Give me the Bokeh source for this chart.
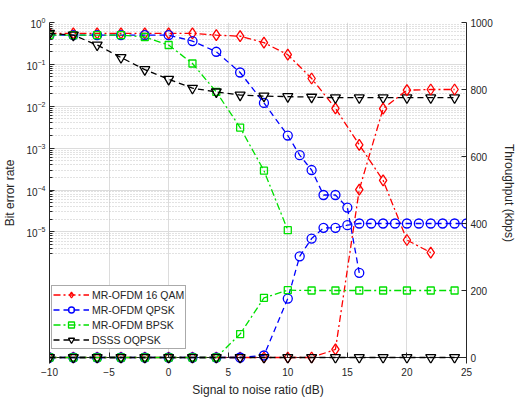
from bokeh.plotting import figure
from bokeh.models import (Range1d, LinearAxis, FixedTicker, LinearScale, Legend,
                          LegendItem, LogTickFormatter, Span, BoxAnnotation)
from bokeh.embed import file_html
from bokeh.resources import INLINE

# ---------------- data ----------------
snr_qam_ber = [-10, -8, -6, -4, -2, 0, 2, 4, 6, 8, 10, 12, 14, 16, 18, 20, 22]
ber_qam = [0.55, 0.55, 0.55, 0.55, 0.55, 0.55, 0.55, 0.5, 0.47, 0.33, 0.17,
           0.046, 0.0089, 0.0012, 1.7e-4, 6.4e-6, 3.2e-6]

snr_qpsk_ber = [-10, -8, -6, -4, -2, 0, 2, 4, 6, 8, 10, 11, 12, 13, 14, 15, 16]
ber_qpsk = [0.5, 0.5, 0.5, 0.5, 0.5, 0.5, 0.36, 0.2, 0.064, 0.012, 0.002,
            6.8e-4, 3.0e-4, 7.6e-5, 7.6e-5, 3.8e-5, 1.05e-6]

snr_bpsk_ber = [-10, -8, -6, -4, -2, 0, 2, 4, 6, 8, 10]
ber_bpsk = [0.5, 0.5, 0.5, 0.5, 0.45, 0.29, 0.105, 0.022, 0.0031, 2.9e-4, 1.1e-5]

snr_dsss_ber = [-10, -8, -6, -4, -2, 0, 2, 4, 6, 8, 10, 12, 14, 16, 18, 20, 22, 24]
ber_dsss = [0.55, 0.5, 0.29, 0.146, 0.075, 0.044, 0.027, 0.022, 0.0185, 0.0175,
            0.017, 0.0165, 0.016, 0.016, 0.016, 0.016, 0.016, 0.016]

snr_tp = [-10, -8, -6, -4, -2, 0, 2, 4, 6, 8, 10, 12, 14, 16, 18, 20, 22, 24]
tp_qam = [0, 0, 0, 0, 0, 0, 0, 0, 0, 0, 0, 0, 24, 501, 743, 798, 800, 800]
tp_bpsk = [0, 0, 0, 0, 0, 0, 0, 0, 70, 178, 201, 200, 200, 200, 200, 200, 200, 200]
tp_dsss = [0, 0, 0, 0, 0, 0, 0, 0, 0, 0, 0, 0, 0, 0, 0, 0, 0, 0]

snr_tp_qpsk = [-10, -8, -6, -4, -2, 0, 2, 4, 6, 8, 10, 11, 12, 13, 14, 15, 16,
               17, 18, 19, 20, 21, 22, 23, 24, 25]
tp_qpsk = [0, 0, 0, 0, 0, 0, 0, 0, 0, 6, 176, 302, 355, 387, 387, 395, 400,
           400, 400, 400, 400, 400, 400, 400, 400, 400]

x_ticks = [-10, -5, 0, 5, 10, 15, 20, 25]
ber_ticks = [1e-5, 1e-4, 1e-3, 1e-2, 1e-1, 1e0]
tp_ticks = [0, 200, 400, 600, 800, 1000]

series_names = ["MR-OFDM 16 QAM", "MR-OFDM QPSK", "MR-OFDM BPSK", "DSSS OQPSK"]

# ---------------- figure ----------------
FONT = "Liberation Sans"
TXT = "#262626"
PAD = 6                      # extra px under the zero line so bottom markers are not cut
DEC = 335 / 8.0              # px per decade on the BER axis
TP_PX = 335 / 1000.0         # px per kbps on the throughput axis

p = figure(width=525, height=401, y_axis_type="log",
           x_range=Range1d(-10, 25),
           y_range=Range1d(10 ** (-8 - PAD / DEC), 1),
           output_backend="svg", toolbar_location=None,
           min_border_left=48, min_border_right=59,
           min_border_top=22, min_border_bottom=44 - PAD)
p.background_fill_color = "white"
p.border_fill_color = "white"
p.outline_line_color = None

p.extra_y_ranges = {"tp": Range1d(-PAD / TP_PX, 1000)}
p.extra_y_scales = {"tp": LinearScale()}

minor = [k * 10.0 ** e for e in range(-6, 0) for k in range(2, 10) if not (e == -6 and k < 3)]

xa = p.xaxis[0]
xa.ticker = FixedTicker(ticks=x_ticks, minor_ticks=[])
xa.axis_label = "Signal to noise ratio (dB)"

ya = p.yaxis[0]
ya.ticker = FixedTicker(ticks=ber_ticks, minor_ticks=minor)
ya.formatter = LogTickFormatter()
ya.axis_label = "Bit error rate"

ra = LinearAxis(y_range_name="tp", axis_label="Throughput (kbps)",
                ticker=FixedTicker(ticks=tp_ticks, minor_ticks=[]))
p.add_layout(ra, "right")

for ax in [xa, ya, ra]:
    ax.axis_line_color = "#262626"
    ax.axis_line_width = 1
    ax.major_tick_in = 5
    ax.major_tick_out = 0
    ax.minor_tick_in = 3
    ax.minor_tick_out = 0
    ax.major_tick_line_color = "#262626"
    ax.minor_tick_line_color = "#262626"
    ax.major_label_text_font = FONT
    ax.major_label_text_font_size = "10px"
    ax.major_label_text_color = TXT
    ax.major_label_standoff = 4
    ax.axis_label_text_font = FONT
    ax.axis_label_text_font_size = "12px"
    ax.axis_label_text_font_style = "normal"
    ax.axis_label_text_color = TXT
    ax.axis_label_standoff = 6

# x axis: ticks start at the zero line, which sits PAD px above the frame bottom
xa.axis_line_color = None
xa.major_tick_in = 5 + PAD
xa.major_tick_out = -PAD
xa.major_label_standoff = 4
xa.axis_label_standoff = 4

p.xgrid.grid_line_color = "#dcdcdc"
p.ygrid.grid_line_color = "#dcdcdc"
p.ygrid.minor_grid_line_color = "#c4c4c4"
p.ygrid.minor_grid_line_dash = "1 2"

# hide grid below the zero line
p.add_layout(BoxAnnotation(top=0, y_range_name="tp", fill_color="white", fill_alpha=1.0,
                           line_color=None, level="underlay"))
p.add_layout(Span(location=0, dimension="width", y_range_name="tp",
                  line_color="#262626", line_width=1, level="underlay"))

# ---------------- series ----------------
styles = [
    dict(color="#ff0000", dash="7 3 2 3", marker="diamond", size=11),
    dict(color="#0000ff", dash="6 4", marker="circle", size=9),
    dict(color="#00e000", dash="7 3 2 3", marker="square", size=7),
    dict(color="#000000", dash="6 4", marker="inverted_triangle", size=10),
]
ber_x = [snr_qam_ber, snr_qpsk_ber, snr_bpsk_ber, snr_dsss_ber]
ber_y = [ber_qam, ber_qpsk, ber_bpsk, ber_dsss]
tp_x = [snr_tp, snr_tp_qpsk, snr_tp, snr_tp]
tp_y = [tp_qam, tp_qpsk, tp_bpsk, tp_dsss]

legend_renderers = []
for st, xs, ys in zip(styles, ber_x, ber_y):
    l = p.line(xs, ys, line_color=st["color"], line_dash=st["dash"], line_width=1.3)
    s = p.scatter(xs, ys, marker=st["marker"], size=st["size"], line_color=st["color"],
                  fill_color=None, line_width=1.3)
    legend_renderers.append([l, s])

for st, xs, ys in zip(styles, tp_x, tp_y):
    p.line(xs, ys, line_color=st["color"], line_dash=st["dash"], line_width=1.3,
           y_range_name="tp")
    p.scatter(xs, ys, marker=st["marker"], size=st["size"], line_color=st["color"],
              fill_color=None, line_width=1.3, y_range_name="tp")

legend = Legend(items=[LegendItem(label=n, renderers=r) for n, r in zip(series_names, legend_renderers)],
                location=(2, 8 + PAD), orientation="vertical")
legend.glyph_width = 36
legend.glyph_height = 15
legend.label_height = 15
legend.spacing = 0
legend.padding = 1
legend.margin = 0
legend.label_standoff = 3
legend.label_text_font = FONT
legend.label_text_font_size = "10.5px"
legend.label_text_color = TXT
legend.border_line_color = "#555555"
legend.border_line_width = 1
legend.background_fill_color = "white"
legend.background_fill_alpha = 1.0
p.add_layout(legend)

open("out.html", "w").write(file_html(p, INLINE))
